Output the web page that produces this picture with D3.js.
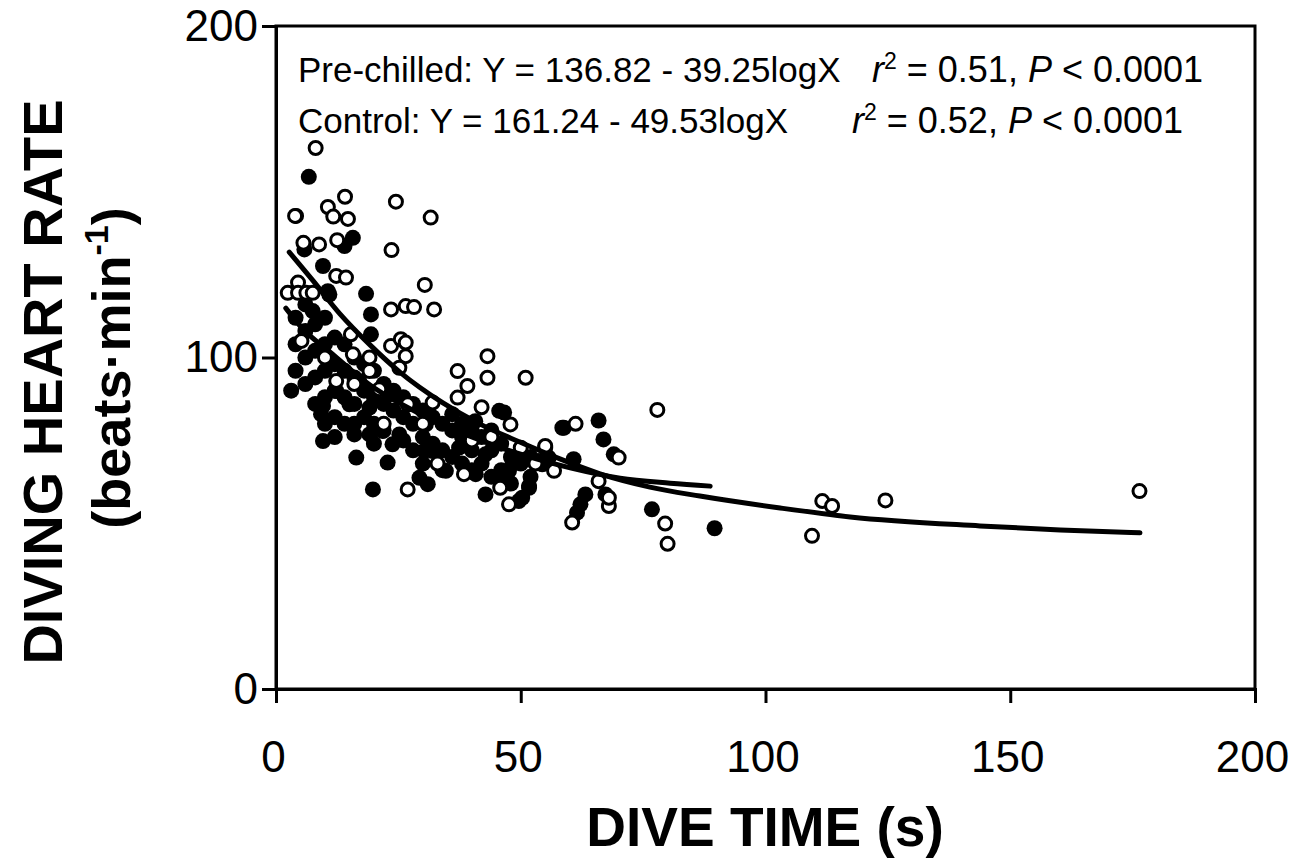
<!DOCTYPE html>
<html><head><meta charset="utf-8">
<script src="https://cdn.jsdelivr.net/npm/d3@7"></script>
<style>body{margin:0;background:#fff}svg{font-family:"Liberation Sans",Arial,sans-serif}</style>
</head><body>
<svg id="c" width="1300" height="867"></svg>
<script>
const xTicks = [0, 50, 100, 150, 200];
const yTicks = [0, 100, 200];
const xTitle = "DIVE TIME (s)";
const yTitle1 = "DIVING HEART RATE";
const yTitle2 = "(beats\u00b7min";

// Control (open circles) [dive time s, heart rate]
const controlPoints = [
 [8.1,163.2],[4.1,142.7],[3.9,142.7],[14.1,148.5],[10.6,145.4],[11.7,142.5],[14.7,141.8],[24.5,147],
 [31.6,142.2],[23.6,132.4],[5.6,134.6],[8.8,134.1],[12.5,135.4],[30.4,121.9],[26.5,115.5],[28.2,115.2],
 [32.3,114.5],[23.5,114.5],[12.3,124.6],[14.3,124.1],[4.5,122.6],[2.4,119.5],[4.5,119.5],[6.2,119.5],
 [7.5,119.5],[5.2,105],[15.3,107],[15.7,101],[19.1,100],[23.5,103.5],[25.5,105.5],[26.5,104.5],
 [26.5,100.4],[25.2,96.9],[12.3,92.9],[27.2,85.9],[21.1,90.4],[19.1,95.9],[43.2,100.4],[37.1,95.9],
 [43.2,93.9],[39.1,91.4],[37.1,87.9],[32,86.4],[26.9,85.9],[47.9,79.8],[51,93.9],[50,72.8],
 [55,73.3],[56.8,65.8],[38.4,64.8],[26.9,60.2],[47.6,55.7],[45.8,60.7],[77.9,84.2],[61.2,80],
 [70,69.8],[65.9,62.7],[60.5,50.2],[68,55.2],[68,57.7],[79.5,49.9],[80,43.8],[111.6,56.7],
 [113.6,55.2],[109.5,46.2],[124.5,56.9],[176.4,59.7],[10,100],[16,92],[22,80],[30,80],[40,75],
 [33,68],[44,76],[53,68],[42,85]
];
// Pre-chilled (filled circles)
const prechilledPoints = [
 [6.7,154.5],[15.7,136.1],[14,133.6],[5.8,132.6],[9.6,127.6],[10.6,120],[18.4,119.2],[19.4,113],
 [7.5,114],[10.9,119],[19.4,107],[3.1,90],[9.6,85.4],[9.2,82.9],[9.6,74.8],[16.4,69.8],[22.8,68.3],
 [19.8,60.2],[12.3,89.9],[16,76.8],[19.1,76.8],[21.8,77.8],[23.8,73.8],[15,85.9],[19.1,84.9],
 [23.2,88.9],[17,92.9],[45.6,83.9],[40.7,80.8],[36,82.9],[30.6,79.8],[25.2,76.8],[32,71.8],
 [37.4,72.8],[42.8,70.8],[48.3,68.8],[58.5,78.8],[42.8,58.7],[50.3,57.7],[51.7,61.2],[29.3,63.7],
 [34.7,65.8],[30.3,71.8],[40.8,64.8],[45.6,63.7],[54.4,67.8],[55.7,69.8],[65.9,81],[66.9,75.3],
 [69,70.8],[58.8,78.8],[46.6,83.4],[55,72.8],[60.8,69.3],[63.2,58.7],[62.2,55.7],[61.5,53.2],
 [67.3,58.7],[76.8,54.2],[51.7,60.7],[49.6,56.7],[47.6,65.8],[53.7,68.8],[89.6,48.5],[31,61.8],
 [4,112],[4,104],[4,96],[6,116],[6,108],[6,100],[6,92],[8,110],[8,102],[8,94],[8,86],
 [10,112],[10,104],[10,96],[10,88],[10,80],[12,106],[12,98],[12,90],[12,82],[12,76],
 [14,104],[14,96],[14,88],[14,80],[16,100],[16,94],[16,86],[16,80],[18,98],[18,90],[18,82],
 [20,96],[20,88],[20,80],[20,74],[22,92],[22,86],[22,78],[24,90],[24,84],[26,88],[26,82],[26,75],
 [28,86],[28,80],[28,72],[30,84],[30,76],[30,68],[32,82],[32,74],[34,80],[34,72],[34,66],
 [36,78],[36,70],[38,80],[38,76],[38,68],[40,78],[40,72],[40,66],[42,76],[42,68],
 [44,78],[44,72],[44,64],[46,74],[46,66],[48,70],[48,62],[50,68],[52,70],[52,64]
];

// Fitted curves as drawn in the figure
const controlFitX = [2.7, 7.6, 13.1, 19.2, 25.3, 34.1, 41.7, 49.8, 58.0, 66.2, 76.4, 86.6, 103.0, 117.3, 143.8, 160.2, 176.5];
const controlFitY = [131.8, 123.1, 113.1, 103.8, 95.6, 86.3, 79.9, 74.5, 69.4, 64.9, 60.9, 58.2, 54.6, 51.9, 49.2, 48.0, 47.1];
const prechilledFitX = [2.0, 5.5, 11.0, 19.2, 29.4, 39.6, 49.8, 60.1, 70.3, 80.5, 88.7];
const prechilledFitY = [114.9, 108.6, 101.7, 91.7, 83.0, 76.3, 70.9, 66.7, 63.6, 62.1, 61.2];

const eqLabels = ["Pre-chilled: Y = 136.82 - 39.25logX", "Control: Y = 161.24 - 49.53logX"];
const r2Values = ["0.51", "0.52"];
const pValues = ["0.0001", "0.0001"];

const svg = d3.select("#c");
const x = d3.scaleLinear().domain([0, 200]).range([276, 1255]);
const y = d3.scaleLinear().domain([0, 200]).range([689, 26]);

// frame
svg.append("rect").attr("x", x(0)).attr("y", y(200))
  .attr("width", x(200) - x(0)).attr("height", y(0) - y(200))
  .attr("fill", "none").attr("stroke", "#000").attr("stroke-width", 3);

const yAxis = svg.append("g").attr("transform", `translate(${x(0)},0)`)
  .call(d3.axisLeft(y).tickValues(yTicks).tickSize(14).tickPadding(4));
const xAxis = svg.append("g").attr("transform", `translate(0,${y(0)})`)
  .call(d3.axisBottom(x).tickValues(xTicks).tickSize(14).tickPadding(38));
[xAxis, yAxis].forEach(g => {
  g.select(".domain").attr("stroke-width", 3);
  g.selectAll(".tick line").attr("stroke-width", 3);
  g.selectAll(".tick text").attr("font-size", 44).attr("font-family", "Liberation Sans, Arial, sans-serif").attr("fill", "#000");
});
xAxis.selectAll(".tick text").attr("dx", -3);

// points
svg.append("g").selectAll("circle").data(prechilledPoints).join("circle")
  .attr("cx", d => x(d[0])).attr("cy", d => y(d[1])).attr("r", 8).attr("fill", "#000");
svg.append("g").selectAll("circle").data(controlPoints).join("circle")
  .attr("cx", d => x(d[0])).attr("cy", d => y(d[1])).attr("r", 6.5)
  .attr("fill", "#fff").attr("stroke", "#000").attr("stroke-width", 3);

// fit curves
const line = d3.line().x(d => x(d[0])).y(d => y(d[1])).curve(d3.curveMonotoneX);
[[controlFitX, controlFitY], [prechilledFitX, prechilledFitY]].forEach(([fx, fy]) => {
  svg.append("path").datum(fx.map((v, i) => [v, fy[i]])).attr("d", line).attr("fill", "none")
    .attr("stroke", "#000").attr("stroke-width", 5).attr("stroke-linecap", "round");
});

// annotations
const annY = [82, 133];
const annX2 = [872, 852];
eqLabels.forEach((s, i) => {
  svg.append("text").attr("x", 298).attr("y", annY[i]).attr("font-size", 35).text(s);
  const t = svg.append("text").attr("x", annX2[i]).attr("y", annY[i]).attr("font-size", 36);
  t.append("tspan").attr("font-style", "italic").text("r");
  t.append("tspan").attr("font-size", 23).attr("dy", -13).text("2");
  t.append("tspan").attr("dy", 13).text(` = ${r2Values[i]}, `);
  t.append("tspan").attr("font-style", "italic").text("P");
  t.append("tspan").text(` < ${pValues[i]}`);
});

// axis titles
svg.append("text").attr("x", 765).attr("y", 846).attr("text-anchor", "middle")
  .attr("font-size", 55).attr("font-weight", "bold").text(xTitle);
svg.append("text").attr("transform", "translate(62,382) rotate(-90)").attr("text-anchor", "middle")
  .attr("font-size", 56).attr("font-weight", "bold").text(yTitle1);
const t2 = svg.append("text").attr("transform", "translate(130,368) rotate(-90)").attr("text-anchor", "middle")
  .attr("font-size", 54).attr("font-weight", "bold");
t2.append("tspan").text(yTitle2);
t2.append("tspan").attr("font-size", 34).attr("dy", -22).text("-1");
t2.append("tspan").attr("dy", 22).text(")");
</script>
</body></html>
